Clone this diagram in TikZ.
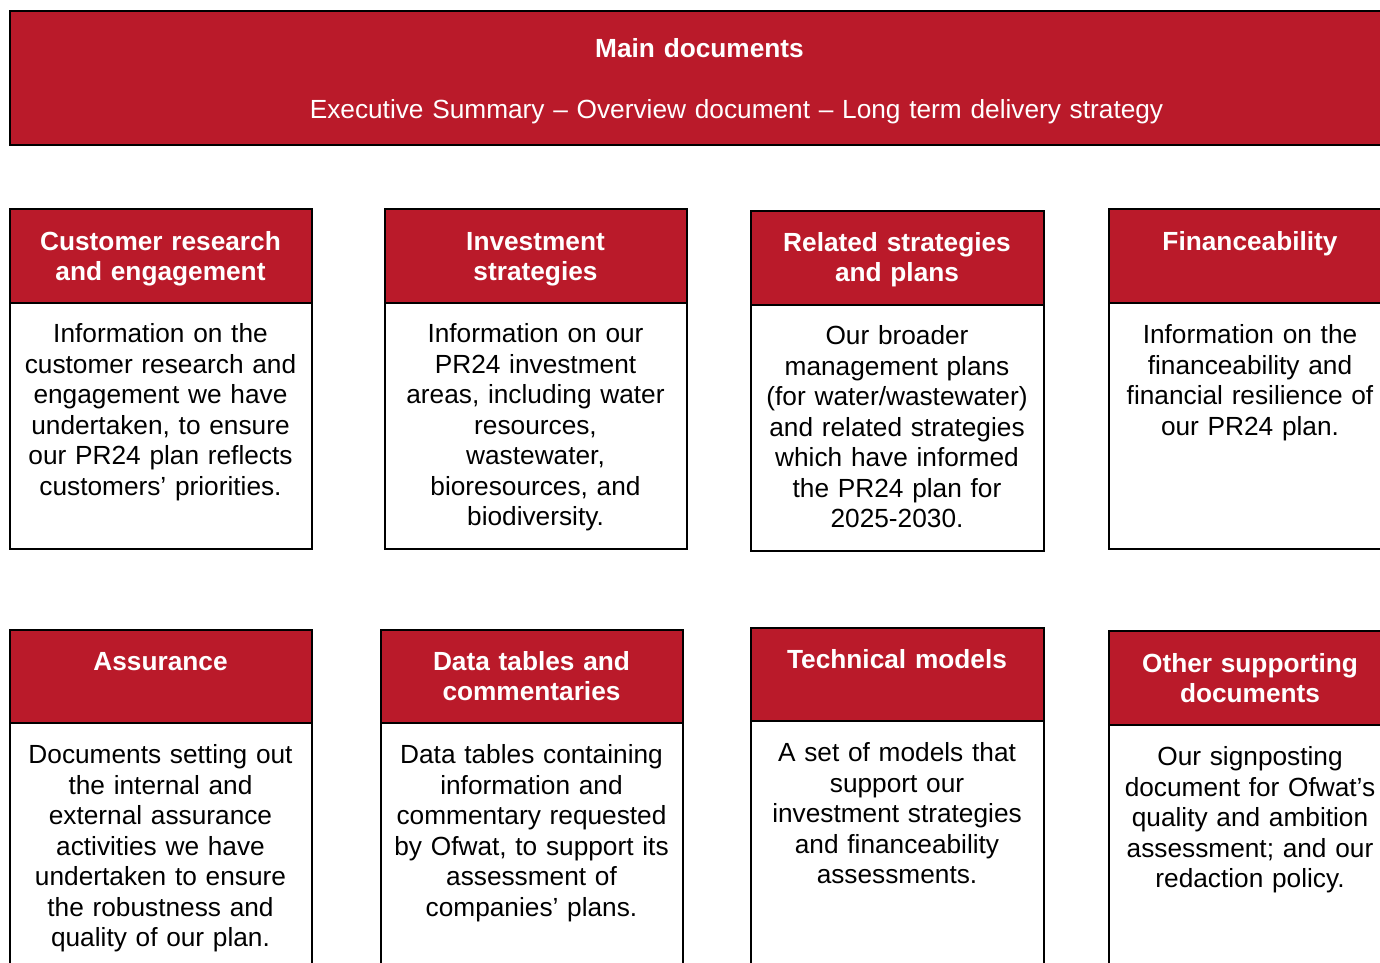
\documentclass[tikz,border=0pt]{standalone}
\usepackage{fontspec}
\setmainfont{Liberation Sans}
\definecolor{brand}{RGB}{186,26,42}
\tikzset{
  boxbase/.style={draw=black, line width=2pt, anchor=north west, inner sep=0pt, outer sep=0pt},
  hdrbox/.style={boxbase, fill=brand},
  bodybox/.style={boxbase, fill=white},
  txtbase/.style={anchor=base, inner sep=0pt, text width=380pt, align=center, font=\fontsize{26.25}{30.5}\selectfont},
  hdrtext/.style={txtbase, text=white, font=\bfseries\fontsize{26.25}{30.2}\selectfont},
  bodytext/.style={txtbase, text=black},
}
\begin{document}
\begin{tikzpicture}[x=1pt,y=-1pt]
\useasboundingbox (0,0) rectangle (1380,962);
\clip (0,0) rectangle (1380,962);
% main banner
\node[hdrbox, minimum width=1383pt, minimum height=134pt] (main) at (10,10.5) {};
\node[hdrtext] (maintitle) at (699.5,57.5) {Main documents};
\node[txtbase, text=white, text width=1000pt] (mainsub) at (736.5,118.5) {Executive Summary – Overview document – Long term delivery strategy};
% --- top row ---
% A
\node[hdrbox, minimum width=302pt, minimum height=94pt] (ah) at (10,208.5) {};
\node[bodybox, minimum width=302pt, minimum height=246pt] (ab) at (10,302.5) {};
\node[hdrtext] (aht) at (160.5,250.5) {Customer research\\and engagement};
\node[bodytext] (abt) at (160.5,342.5) {Information on the\\customer research and\\engagement we have\\undertaken, to ensure\\our PR24 plan reflects\\customers’ priorities.};
% B
\node[hdrbox, minimum width=302pt, minimum height=94pt] (bh) at (385,208.5) {};
\node[bodybox, minimum width=302pt, minimum height=246pt] (bb) at (385,302.5) {};
\node[hdrtext] (bht) at (535.5,250.5) {Investment\\strategies};
\node[bodytext] (bbt) at (535.5,342.5) {Information on our\\PR24 investment\\areas, including water\\resources,\\wastewater,\\bioresources, and\\biodiversity.};
% C
\node[hdrbox, minimum width=293pt, minimum height=94pt] (ch) at (751,210.5) {};
\node[bodybox, minimum width=293pt, minimum height=246pt] (cb) at (751,304.5) {};
\node[hdrtext] (cht) at (897,251.5) {Related strategies\\and plans};
\node[bodytext] (cbt) at (897,344.5) {Our broader\\management plans\\(for water/wastewater)\\and related strategies\\which have informed\\the PR24 plan for\\2025-2030.};
% D
\node[hdrbox, minimum width=284pt, minimum height=94pt] (dh) at (1109,208.5) {};
\node[bodybox, minimum width=284pt, minimum height=246pt] (db) at (1109,302.5) {};
\node[hdrtext] (dht) at (1250,250.5) {Financeability};
\node[bodytext] (dbt) at (1250,343.5) {Information on the\\financeability and\\financial resilience of\\our PR24 plan.};
% --- bottom row ---
% E
\node[hdrbox, minimum width=302pt, minimum height=93pt] (eh) at (10,629.5) {};
\node[bodybox, minimum width=302pt, minimum height=300pt] (eb) at (10,722.5) {};
\node[hdrtext] (eht) at (160.5,670.5) {Assurance};
\node[bodytext] (ebt) at (160.5,763.5) {Documents setting out\\the internal and\\external assurance\\activities we have\\undertaken to ensure\\the robustness and\\quality of our plan.};
% F
\node[hdrbox, minimum width=302pt, minimum height=93pt] (fh) at (381,629.5) {};
\node[bodybox, minimum width=302pt, minimum height=300pt] (fb) at (381,722.5) {};
\node[hdrtext] (fht) at (531.5,670.5) {Data tables and\\commentaries};
\node[bodytext] (fbt) at (531.5,763.5) {Data tables containing\\information and\\commentary requested\\by Ofwat, to support its\\assessment of\\companies’ plans.};
% G
\node[hdrbox, minimum width=293pt, minimum height=93pt] (gh) at (751,627.5) {};
\node[bodybox, minimum width=293pt, minimum height=300pt] (gb) at (751,720.5) {};
\node[hdrtext] (ght) at (897,668.5) {Technical models};
\node[bodytext] (gbt) at (897,761.5) {A set of models that\\support our\\investment strategies\\and financeability\\assessments.};
% H
\node[hdrbox, minimum width=284pt, minimum height=94pt] (hh) at (1109,630.5) {};
\node[bodybox, minimum width=284pt, minimum height=300pt] (hb) at (1109,724.5) {};
\node[hdrtext] (hht) at (1250,672.5) {Other supporting\\documents};
\node[bodytext] (hbt) at (1250,765.5) {Our signposting\\document for Ofwat’s\\quality and ambition\\assessment; and our\\redaction policy.};
\end{tikzpicture}
\end{document}
